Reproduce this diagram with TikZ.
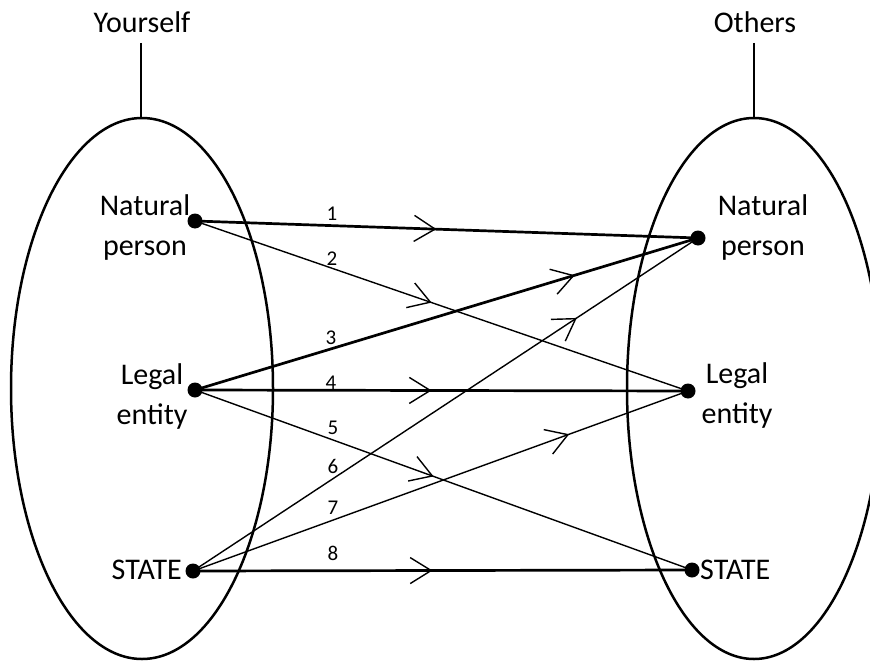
\documentclass[tikz,border=0pt]{standalone}
\usepackage{fontspec}
\setmainfont{Carlito}
\usetikzlibrary{arrows.meta,decorations.markings}
\tikzset{
  lab/.style={font=\fontsize{30}{40}\selectfont, inner sep=0pt, align=center},
  num/.style={font=\fontsize{21}{24}\selectfont, inner sep=0pt},
  dotn/.style={circle, fill=black, inner sep=0pt, minimum size=15pt},
  thickc/.style={line width=2.7pt},
  thinc/.style={line width=1.4pt},
  midarrow/.style={postaction={decorate}, decoration={markings,
     mark=at position #1 with {\arrow[line width=1.4pt]{Straight Barb[length=21pt,width=26pt]}}}},
  oval/.style={line width=2.5pt}
}
\begin{document}
\begin{tikzpicture}[x=1pt,y=-1pt]
\useasboundingbox (0,0) rectangle (870,661);
% ellipses
\draw[oval] (142,388.5) ellipse [x radius=131, y radius=270.5];
\draw[oval] (754,388.5) ellipse [x radius=127, y radius=270.5];
% top labels
\node[lab] (you) at (142,22) {Yourself};
\node[lab] (oth) at (755,22) {Others};
\coordinate (yb) at (141,43);
\coordinate (yt) at (141,118);
\coordinate (ob) at (754,43);
\coordinate (ot) at (754,118);
\draw[oval] (yb) -- (yt);
\draw[oval] (ob) -- (ot);
% dots
\node[dotn] (lnp) at (195,221) {};
\node[dotn] (lle) at (195,390) {};
\node[dotn] (lst) at (193,571) {};
\node[dotn] (rnp) at (698,238) {};
\node[dotn] (rle) at (688,391) {};
\node[dotn] (rst) at (692,570) {};
% labels
\node[lab] (tlnp) at (145,227) {Natural\\person};
\node[lab] (tlle) at (152,396) {Legal\\entity};
\node[lab, anchor=east] (tlst) at (182,570) {STATE};
\node[lab] (trnp) at (763,227) {Natural\\person};
\node[lab] (trle) at (737,395) {Legal\\entity};
\node[lab, anchor=west] (trst) at (700,570) {STATE};
% connectors
\draw[thickc, midarrow=0.48] (lnp.center) -- (rnp.center);
\draw[thinc, midarrow=0.48] (lnp.center) -- (rle.center);
\draw[thickc, midarrow=0.755] (lle.center) -- (rnp.center);
\draw[thickc, midarrow=0.48] (lle.center) -- (rle.center);
\draw[thinc, midarrow=0.48] (lle.center) -- (rst.center);
\draw[thinc, midarrow=0.76] (lst.center) -- (rnp.center);
\draw[thinc, midarrow=0.76] (lst.center) -- (rle.center);
\draw[thickc, midarrow=0.48] (lst.center) -- (rst.center);
% numbers
\node[num] (n1) at (332,214) {1};
\node[num] (n2) at (332,259) {2};
\node[num] (n3) at (331,338) {3};
\node[num] (n4) at (331,383) {4};
\node[num] (n5) at (333,428) {5};
\node[num] (n6) at (333,466) {6};
\node[num] (n7) at (333,508) {7};
\node[num] (n8) at (333,553) {8};
\end{tikzpicture}
\end{document}
